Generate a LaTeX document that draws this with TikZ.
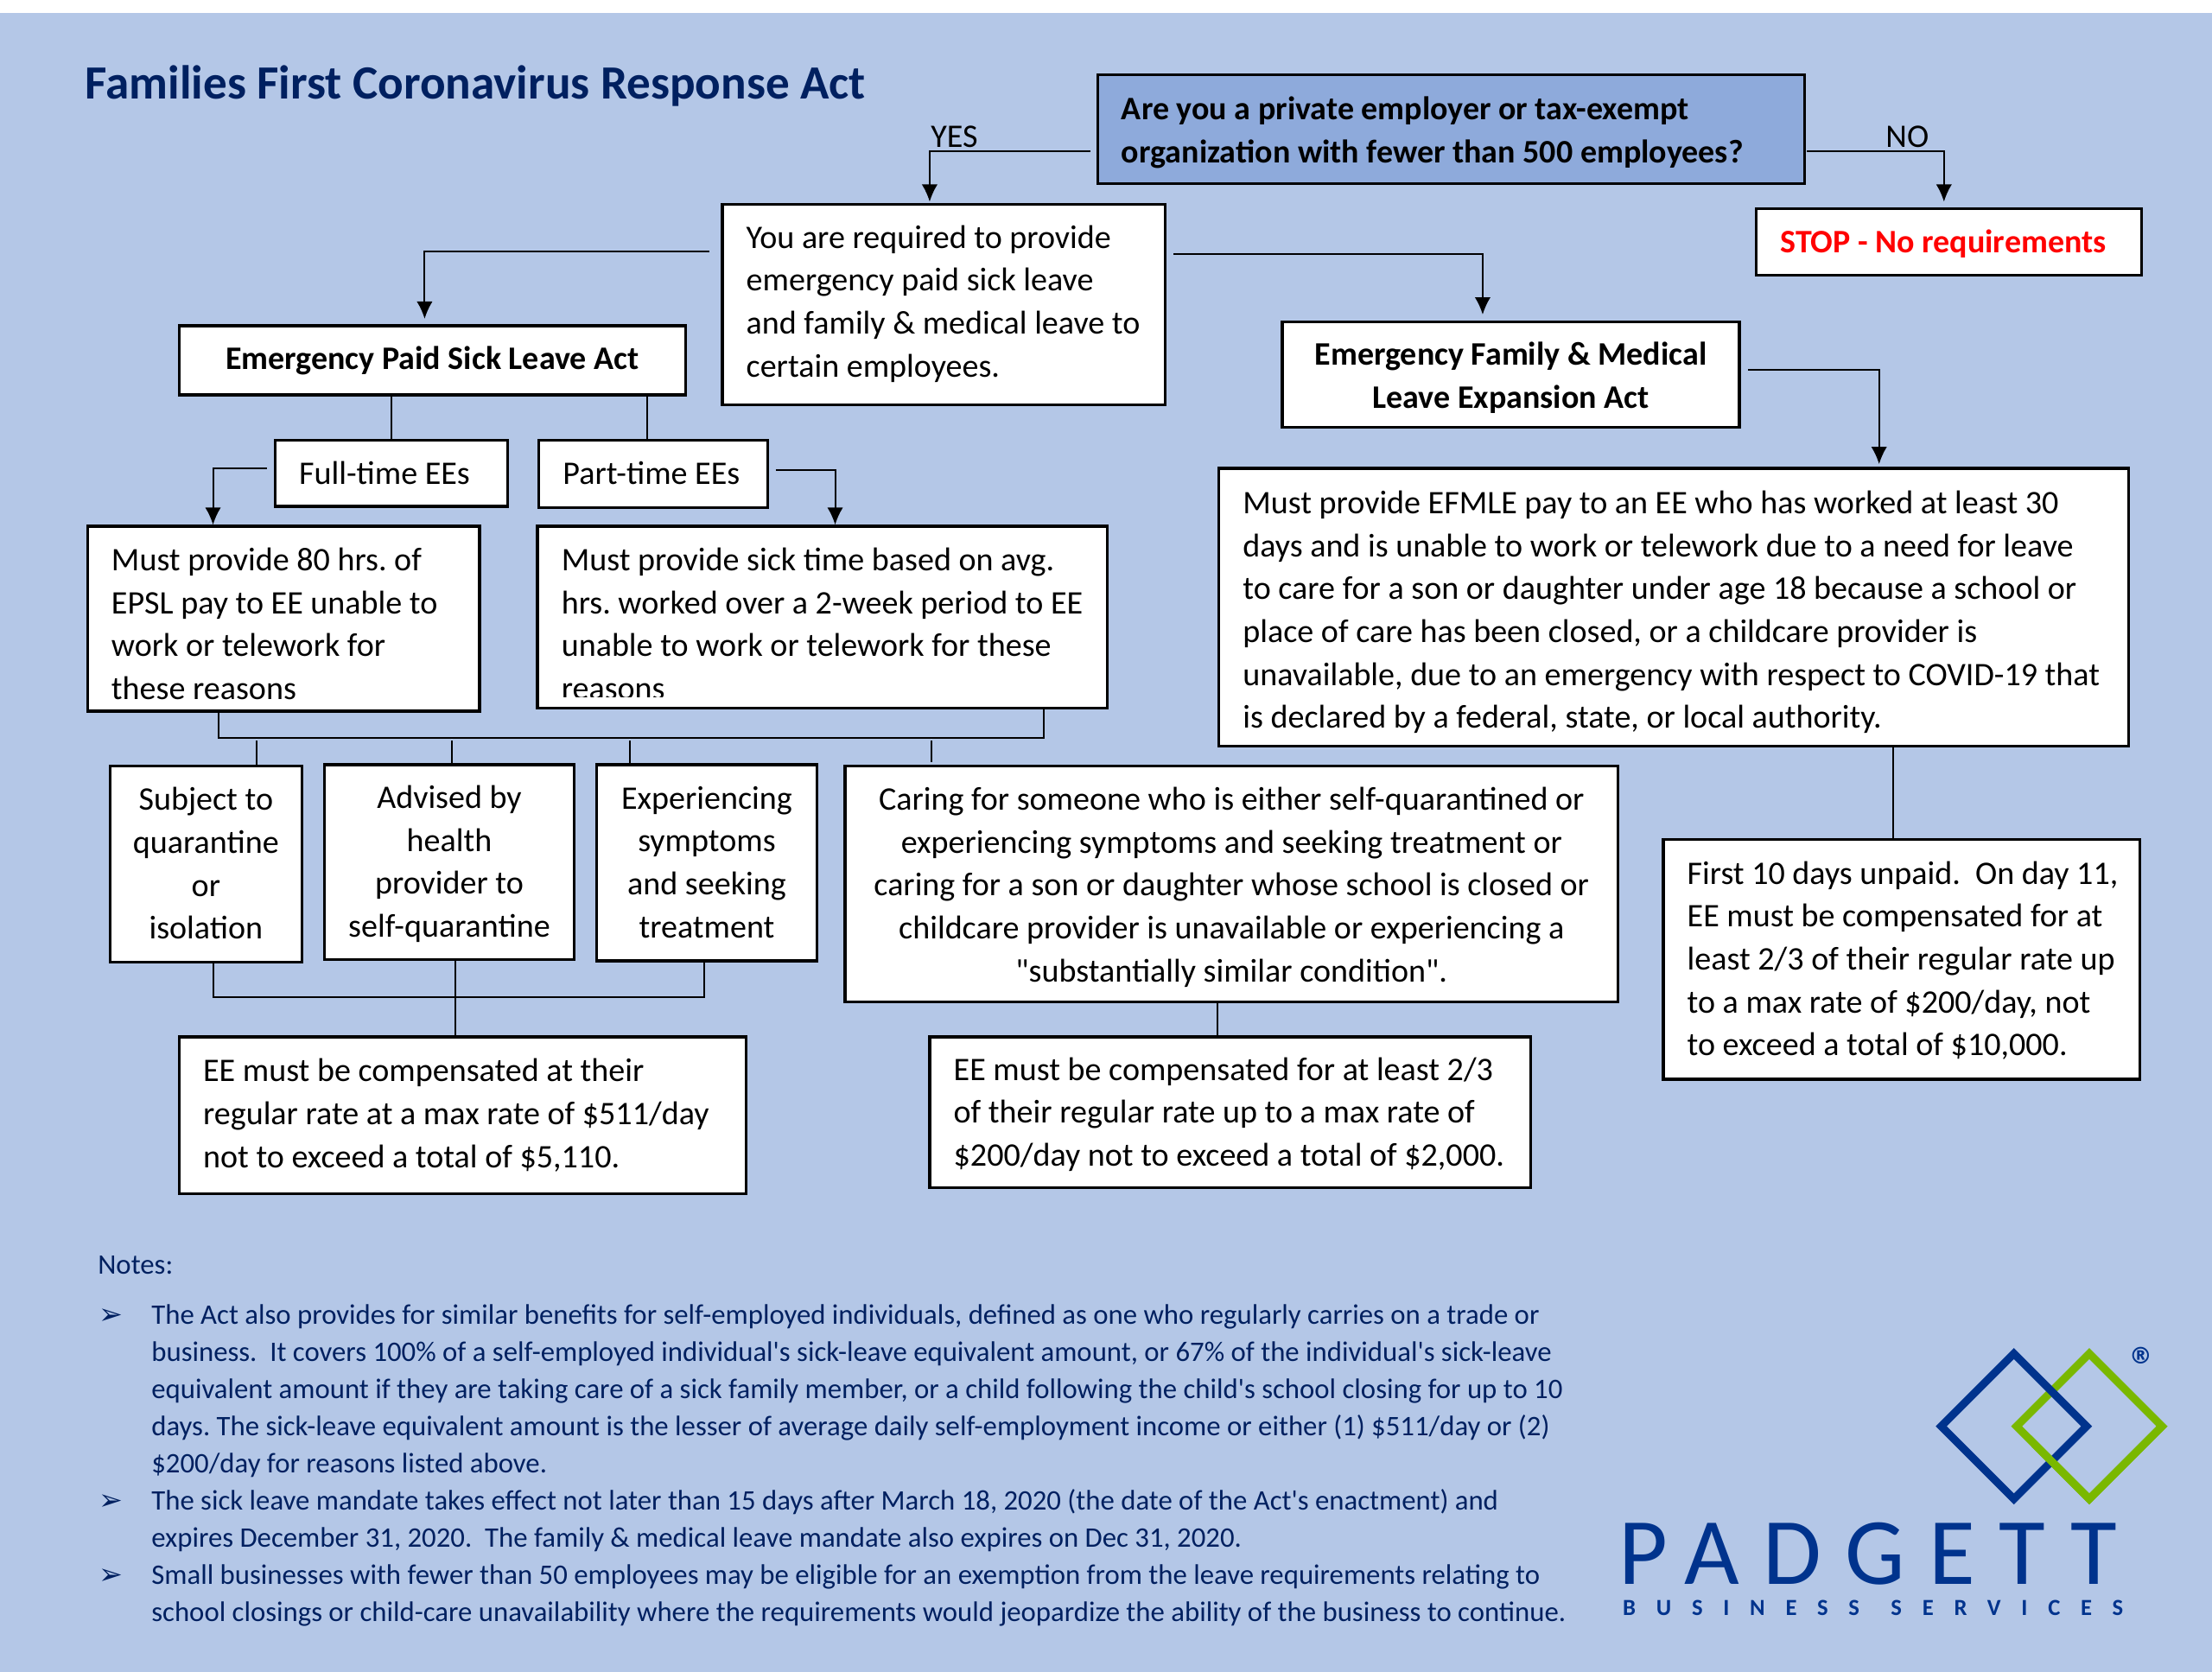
\documentclass[tikz,border=0pt]{standalone}
\usepackage{fontspec}
\setmainfont{Carlito}[Ligatures=TeXOff]
\newfontfamily\dejavu{DejaVu Sans}
\usetikzlibrary{arrows.meta}
\frenchspacing
\definecolor{pagebg}{HTML}{B4C7E7}
\definecolor{qfill}{HTML}{8EAADB}
\definecolor{navy}{HTML}{002060}
\definecolor{logoblue}{HTML}{00338D}
\definecolor{logogreen}{HTML}{7AB800}
\newlength\unitpx
\setlength\unitpx{0.4898pt}
\newcommand{\bodyfont}{\fontsize{11.42}{14.9}\selectfont}
\newcommand{\boldfont}{\fontsize{11.4}{14.9}\selectfont\bfseries}
\newcommand{\notefont}{\fontsize{9.83}{12.89}\selectfont}
\tikzset{
  ebox/.style={draw=black,fill=white,line width=1pt,inner sep=0pt,outer sep=0pt,anchor=north west,font=\bodyfont},
  lnk/.style={draw=black,line width=0.6pt},
  arr/.style={lnk,-{Latex[length=6pt,width=5.5pt]}},
  lbl/.style={inner sep=0pt,font=\bodyfont}
}
% \bx[opts]{name}{x1}{y1}{x2}{y2}{l|c}{dy}{text}
\newcommand{\bx}[9][]{%
  \pgfmathsetlengthmacro\bxw{(#5-#3)*0.4898}%
  \pgfmathsetlengthmacro\bxh{(#6-#4)*0.4898}%
  \pgfmathsetlengthmacro\bxd{(#8+8.1)*0.4898}%
  \node[ebox,minimum width=\bxw,minimum height=\bxh,#1] (#2) at (#3,#4)
    {\makebox[\bxw][#7]{\if#7l\hspace*{17\unitpx}\fi\raisebox{-\bxd}[0pt][0pt]{\begin{tabular}{@{}#7@{}}#9\end{tabular}}}};%
}
\begin{document}
\begin{tikzpicture}[x=0.4898pt,y=-0.4898pt]
\useasboundingbox (0,0) rectangle (1568,1185);
\fill[white] (0,0) rectangle (1568,9);
\fill[pagebg] (0,9) rectangle (1568,1185);

\node[anchor=base west,inner sep=0pt,text=navy,font=\fontsize{16.55}{20}\selectfont\bfseries] (title) at (60,70) {Families First Coronavirus Response Act};

\bx[fill=qfill,font=\boldfont]{q}{778}{53}{1279}{130}{l}{0}{Are you a private employer or tax-exempt\\organization with fewer than 500 employees?}
\bx{you}{512}{145}{826}{287}{l}{-3}{You are required to provide\\emergency paid sick leave\\and family \& medical leave to\\certain employees.}
\bx[font=\boldfont\color{red}]{stop}{1245}{148}{1518}{195}{l}{-1}{STOP - No requirements}
\bx[font=\boldfont]{epsl}{127}{231}{486}{280}{c}{-2}{Emergency Paid Sick Leave Act}
\bx[font=\boldfont]{efmle}{909}{228}{1233}{303}{c}{0}{Emergency Family \& Medical\\Leave Expansion Act}
\bx{full}{195}{312}{360}{359}{l}{-0.5}{Full-time EEs}
\bx{part}{382}{312}{544}{360}{l}{-1}{Part-time EEs}
\bx{mone}{62}{373}{340}{504}{l}{3}{Must provide 80 hrs. of\\EPSL pay to EE unable to\\work or telework for\\these reasons}
\bx{mtwo}{381}{373}{785}{502}{l}{4}{Must provide sick time based on avg.\\hrs. worked over a 2-week period to EE\\unable to work or telework for these\\reasons}
\fill[white] (383,494) rectangle (783,500.5);
\bx{pay}{864}{332}{1509}{529}{l}{1}{Must provide EFMLE pay to an EE who has worked at least 30\\days and is unable to work or telework due to a need for leave\\to care for a son or daughter under age 18 because a school or\\place of care has been closed, or a childcare provider is\\unavailable, due to an emergency with respect to COVID-19 that\\is declared by a federal, state, or local authority.}
\bx{sub}{78}{543}{214}{682}{c}{-1}{Subject to\\quarantine\\or\\isolation}
\bx{adv}{230}{542}{407}{680}{c}{-1}{Advised by\\health\\provider to\\self-quarantine}
\bx{exper}{423}{542}{579}{681}{c}{-1}{Experiencing\\symptoms\\and seeking\\treatment}
\bx{caring}{599}{543}{1147}{710}{c}{0}{Caring for someone who is either self-quarantined or\\experiencing symptoms and seeking treatment or\\caring for a son or daughter whose school is closed or\\childcare provider is unavailable or experiencing a\\"substantially similar condition".}
\bx{first}{1179}{595}{1517}{765}{l}{-1}{First 10 days unpaid.\ \ On day 11,\\EE must be compensated for at\\least 2/3 of their regular rate up\\to a max rate of \$200/day, not\\to exceed a total of \$10,000.}
\bx{eeone}{127}{735}{529}{846}{l}{-2}{EE must be compensated at their\\regular rate at a max rate of \$511/day\\not to exceed a total of \$5,110.}
\bx{eetwo}{659}{735}{1085}{842}{l}{-1}{EE must be compensated for at least 2/3\\of their regular rate up to a max rate of\\\$200/day not to exceed a total of \$2,000.}

\node[lbl] (yes) at (676.5,97) {YES};
\node[lbl] (no) at (1352,97) {NO};

\draw[arr] ([shift={(-5,15.5)}]q.west) -| ([shift={(-10,-2)}]you.north);
\draw[arr] ([shift={(2,15.5)}]q.east) -| ([shift={(-3.5,-5)}]stop.north);
\draw[arr] ([shift={(-9,-38)}]you.west) -| ([shift={(-5.5,-5)}]epsl.north);
\draw[arr] ([shift={(6,-36)}]you.east) -| ([shift={(-20,-5)}]efmle.north);
\draw[arr] ([shift={(6,-3.5)}]efmle.east) -| ([shift={(145.5,-3)}]pay.north);
\draw[lnk] (full.north) -- (full.north |- epsl.south);
\draw[lnk] ([xshift=-4\unitpx]part.north) -- ([xshift=-4\unitpx]part.north |- epsl.south);
\draw[arr] ([shift={(-6,-3.5)}]full.west) -| ([shift={(-50,-1)}]mone.north);
\draw[arr] ([shift={(6,-3)}]part.east) -| ([shift={(9,-1)}]mtwo.north);

\coordinate (busL) at (155,523);
\coordinate (busR) at (740,523);
\draw[lnk] ([shift={(-46,1)}]mone.south) -- (busL) -- (busR) -- ([shift={(157,1)}]mtwo.south);
\draw[lnk] ([shift={(36,0)}]sub.north) -- ([shift={(36,-18)}]sub.north);
\draw[lnk] ([shift={(2,0)}]adv.north) -- ([shift={(2,-17)}]adv.north);
\draw[lnk] ([shift={(-54.4,0)}]exper.north) -- ([shift={(-54.4,-17)}]exper.north);
\draw[lnk] ([shift={(-213,-3)}]caring.north) -- ([shift={(-213,-18)}]caring.north);

\coordinate (busBL) at (151,707);
\coordinate (busBR) at (499,707);
\draw[lnk] ([xshift=5\unitpx]sub.south) -- (busBL) -- (busBR) -- ([xshift=-2\unitpx]exper.south);
\draw[lnk] ([xshift=4\unitpx]adv.south) -- ([xshift=-5.5\unitpx]eeone.north);
\draw[lnk] ([xshift=-10\unitpx]caring.south) -- ([xshift=-9\unitpx]eetwo.north);
\draw[lnk] ([xshift=155.5\unitpx]pay.south) -- ([xshift=-6\unitpx]first.north);

\node[anchor=base west,inner sep=0pt,text=navy,font=\notefont] (noteshead) at (69,903) {Notes:};
\node[anchor=north west,inner sep=0pt,text=navy,font=\notefont] (notes) at (70,920)
{\begin{tabular}{@{}p{37\unitpx}@{}l@{}}
{\dejavu\fontsize{10}{12}\selectfont ➢} & The Act also provides for similar benefits for self-employed individuals, defined as one who regularly carries on a trade or\\
 & business.\ \ It covers 100\% of a self-employed individual's sick-leave equivalent amount, or 67\% of the individual's sick-leave\\
 & equivalent amount if they are taking care of a sick family member, or a child following the child's school closing for up to 10\\
 & days. The sick-leave equivalent amount is the lesser of average daily self-employment income or either (1) \$511/day or (2)\\
 & \$200/day for reasons listed above.\\
{\dejavu\fontsize{10}{12}\selectfont ➢} & The sick leave mandate takes effect not later than 15 days after March 18, 2020 (the date of the Act's enactment) and\\
 & expires December 31, 2020.\ \ The family \& medical leave mandate also expires on Dec 31, 2020.\\
{\dejavu\fontsize{10}{12}\selectfont ➢} & Small businesses with fewer than 50 employees may be eligible for an exemption from the leave requirements relating to\\
 & school closings or child-care unavailability where the requirements would jeopardize the ability of the business to continue.
\end{tabular}};

% logo
\draw[logogreen,line width=2.7pt,miter limit=10] (1481,959.5) -- (1532.5,1011) -- (1481,1062.5) -- (1429.5,1011) -- cycle;
\draw[logoblue,line width=2.7pt,miter limit=10] (1427.6,959.5) -- (1479.1,1011) -- (1427.6,1062.5) -- (1376.1,1011) -- cycle;
\begin{scope}
\clip (1440,1011) rectangle (1540,1075);
\draw[logogreen,line width=2.7pt,miter limit=10] (1481,959.5) -- (1532.5,1011) -- (1481,1062.5) -- (1429.5,1011) -- cycle;
\end{scope}
\node[inner sep=0pt,text=logoblue,font=\dejavu\fontsize{8}{10}\selectfont\bfseries] (reg) at (1517.5,961) {®};
\node[anchor=base west,inner sep=0pt,text=logoblue,font=\fontsize{33}{36}\selectfont\addfontfeature{LetterSpace=25}] (padgett) at (1147,1123) {PADGETT};
\node[anchor=base west,inner sep=0pt,text=logoblue,font=\fontsize{8}{10}\selectfont\bfseries\addfontfeature{LetterSpace=89}] (bus) at (1150,1145) {BUSINESS \hspace{2pt}SERVICES};
\end{tikzpicture}
\end{document}
